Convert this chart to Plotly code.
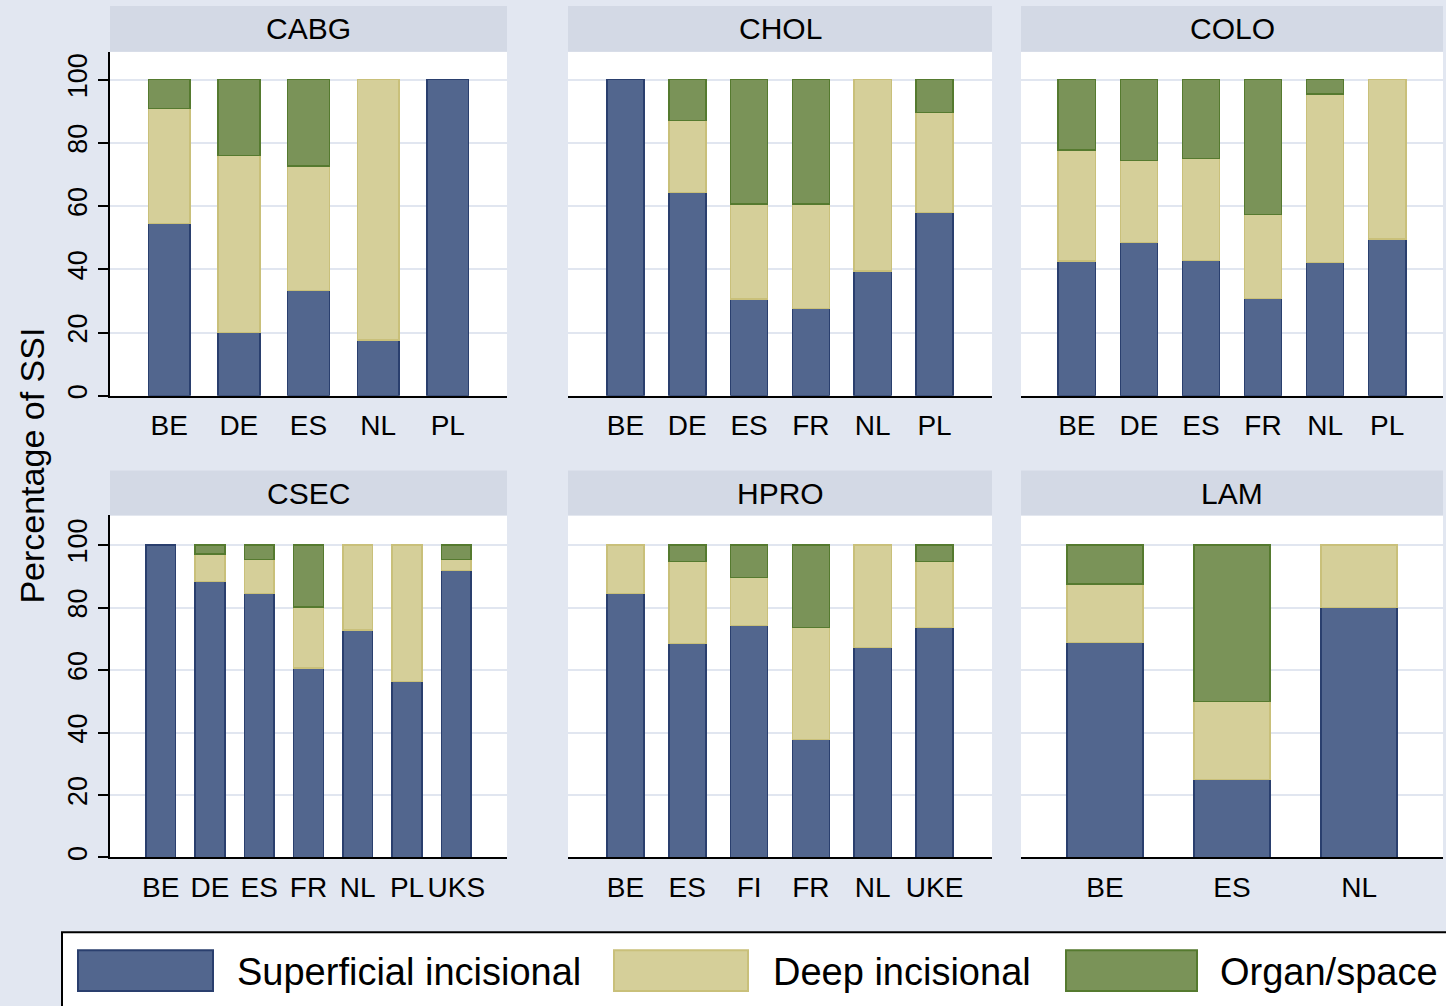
import plotly.graph_objects as go

# ---------------- data (percent of SSI by type) ----------------
panels = ["CABG", "CHOL", "COLO", "CSEC", "HPRO", "LAM"]

cabg_countries = ["BE", "DE", "ES", "NL", "PL"]
cabg_superficial = [54.5, 20.0, 33.3, 17.6, 100.0]
cabg_deep = [36.4, 56.0, 39.4, 82.4, 0.0]
cabg_organ = [9.1, 24.0, 27.3, 0.0, 0.0]

chol_countries = ["BE", "DE", "ES", "FR", "NL", "PL"]
chol_superficial = [100.0, 64.3, 30.6, 27.6, 39.5, 58.0]
chol_deep = [0.0, 22.8, 30.0, 33.0, 60.5, 31.6]
chol_organ = [0.0, 12.9, 39.4, 39.4, 0.0, 10.4]

colo_countries = ["BE", "DE", "ES", "FR", "NL", "PL"]
colo_superficial = [42.6, 48.5, 42.8, 30.8, 42.1, 49.6]
colo_deep = [35.1, 26.0, 32.3, 26.6, 53.3, 50.4]
colo_organ = [22.3, 25.5, 24.9, 42.6, 4.6, 0.0]

csec_countries = ["BE", "DE", "ES", "FR", "NL", "PL", "UKS"]
csec_superficial = [100.0, 88.3, 84.5, 60.6, 72.8, 56.4, 91.8]
csec_deep = [0.0, 8.9, 10.9, 19.6, 27.2, 43.6, 3.6]
csec_organ = [0.0, 2.8, 4.6, 19.8, 0.0, 0.0, 4.6]

hpro_countries = ["BE", "ES", "FI", "FR", "NL", "UKE"]
hpro_superficial = [84.5, 68.5, 74.3, 37.8, 67.2, 73.6]
hpro_deep = [15.5, 26.2, 15.4, 35.9, 32.8, 21.1]
hpro_organ = [0.0, 5.3, 10.3, 26.3, 0.0, 5.3]

lam_countries = ["BE", "ES", "NL"]
lam_superficial = [68.75, 25.0, 80.0]
lam_deep = [18.75, 25.0, 20.0]
lam_organ = [12.5, 50.0, 0.0]

series_names = ["Superficial incisional", "Deep incisional", "Organ/space"]
y_title = "Percentage of SSI"
y_ticks = [0, 20, 40, 60, 80, 100]

panel_data = {
    "CABG": (cabg_countries, [cabg_superficial, cabg_deep, cabg_organ]),
    "CHOL": (chol_countries, [chol_superficial, chol_deep, chol_organ]),
    "COLO": (colo_countries, [colo_superficial, colo_deep, colo_organ]),
    "CSEC": (csec_countries, [csec_superficial, csec_deep, csec_organ]),
    "HPRO": (hpro_countries, [hpro_superficial, hpro_deep, hpro_organ]),
    "LAM": (lam_countries, [lam_superficial, lam_deep, lam_organ]),
}

# ---------------- styling / layout ----------------
W, H = 1446, 1006
FONT = "Liberation Sans, Arial, Helvetica, sans-serif"
BG = "#E2E7F1"
STRIP = "#D3D9E5"
GRID = "#E1E6F0"
FILLS = ["#52668E", "#D5CF99", "#7A9358"]
LINES = ["#2A3F6E", "#C9C07A", "#557A2F"]

col_px = [(110, 507), (568, 992), (1021, 1443)]
row_px = [(52, 397), (517, 860)]
strip_px = [(6, 52), (472, 517)]
row_ymax = [108.8, 109.5]
pad = {"CABG": 0.85, "CHOL": 0.93, "COLO": 0.9, "CSEC": 1.03, "HPRO": 0.93, "LAM": 0.66}


def px_x(v):
    return v / W


def px_y(v):
    return 1 - v / H


fig = go.Figure()
shapes = []
annotations = []

for i, name in enumerate(panels):
    r, c = divmod(i, 3)
    idx = "" if i == 0 else str(i + 1)
    xa, ya = "x" + idx, "y" + idx
    cats, vals = panel_data[name]
    for s in range(3):
        yv = [v if v > 0 else None for v in vals[s]]
        fig.add_trace(go.Bar(
            x=cats, y=yv, name=series_names[s], xaxis=xa, yaxis=ya,
            width=0.6, showlegend=False,
            marker=dict(color=FILLS[s], line=dict(color=LINES[s], width=1.5)),
            hoverinfo="x+y+name",
        ))
    x0, x1 = col_px[c]
    y0, y1 = row_px[r]
    n = len(cats)
    fig.layout["xaxis" + idx] = dict(
        domain=[px_x(x0), px_x(x1)], anchor=ya, type="category",
        range=[-pad[name], n - 1 + pad[name]],
        showline=True, linecolor="black", linewidth=2, ticks="",
        showgrid=False, tickangle=0,
        tickfont=dict(size=28, color="black", family=FONT),
        ticklabelstandoff=4, fixedrange=True,
    )
    first = c == 0
    fig.layout["yaxis" + idx] = dict(
        domain=[px_y(y1), px_y(y0)], anchor=xa,
        range=[0, row_ymax[r]], tickvals=y_ticks,
        showgrid=True, gridcolor=GRID, gridwidth=1.5, zeroline=False,
        showline=first, linecolor="black", linewidth=2,
        ticks="outside" if first else "", ticklen=10, tickwidth=1.5, tickcolor="black",
        showticklabels=first, tickangle=-90,
        tickfont=dict(size=27, color="black", family=FONT), fixedrange=True,
    )
    # strip header
    sy0, sy1 = strip_px[r]
    shapes.append(dict(type="rect", xref="paper", yref="paper",
                       x0=px_x(x0), x1=px_x(x1), y0=px_y(sy1), y1=px_y(sy0),
                       fillcolor=STRIP, line=dict(width=0), layer="below"))
    annotations.append(dict(text=name, xref="paper", yref="paper",
                            x=px_x((x0 + x1) / 2), y=px_y((sy0 + sy1) / 2),
                            xanchor="center", yanchor="middle", showarrow=False,
                            font=dict(size=30, color="black", family=FONT)))

# y-axis title
annotations.append(dict(text=y_title, xref="paper", yref="paper",
                        x=px_x(32), y=px_y(467), textangle=-90,
                        xanchor="center", yanchor="middle", showarrow=False,
                        font=dict(size=34, color="black", family=FONT)))

# legend (drawn manually to mimic the large key boxes)
shapes.append(dict(type="rect", xref="paper", yref="paper",
                   x0=px_x(62), x1=px_x(1460), y0=px_y(1020), y1=px_y(935),
                   fillcolor="white", line=dict(color="black", width=2)))
key_px = [(78, 213, 235), (614, 748, 771), (1066, 1197, 1218)]
for s, (k0, k1, tx) in enumerate(key_px):
    shapes.append(dict(type="rect", xref="paper", yref="paper",
                       x0=px_x(k0), x1=px_x(k1), y0=px_y(994), y1=px_y(953),
                       fillcolor=FILLS[s], line=dict(color=LINES[s], width=2)))
    annotations.append(dict(text=series_names[s], xref="paper", yref="paper",
                            x=px_x(tx), y=px_y(975), xanchor="left", yanchor="middle",
                            showarrow=False,
                            font=dict(size=38, color="black", family=FONT)))

fig.update_layout(
    width=W, height=H, autosize=False,
    margin=dict(l=0, r=0, t=0, b=0, pad=0),
    paper_bgcolor=BG, plot_bgcolor="white",
    barmode="stack", bargap=0.4,
    shapes=shapes, annotations=annotations,
    font=dict(family=FONT, color="black"),
)

fig.write_html("out.html", config={"displayModeBar": False},
               post_script="document.body.style.margin='0';document.body.style.overflow='hidden';")
